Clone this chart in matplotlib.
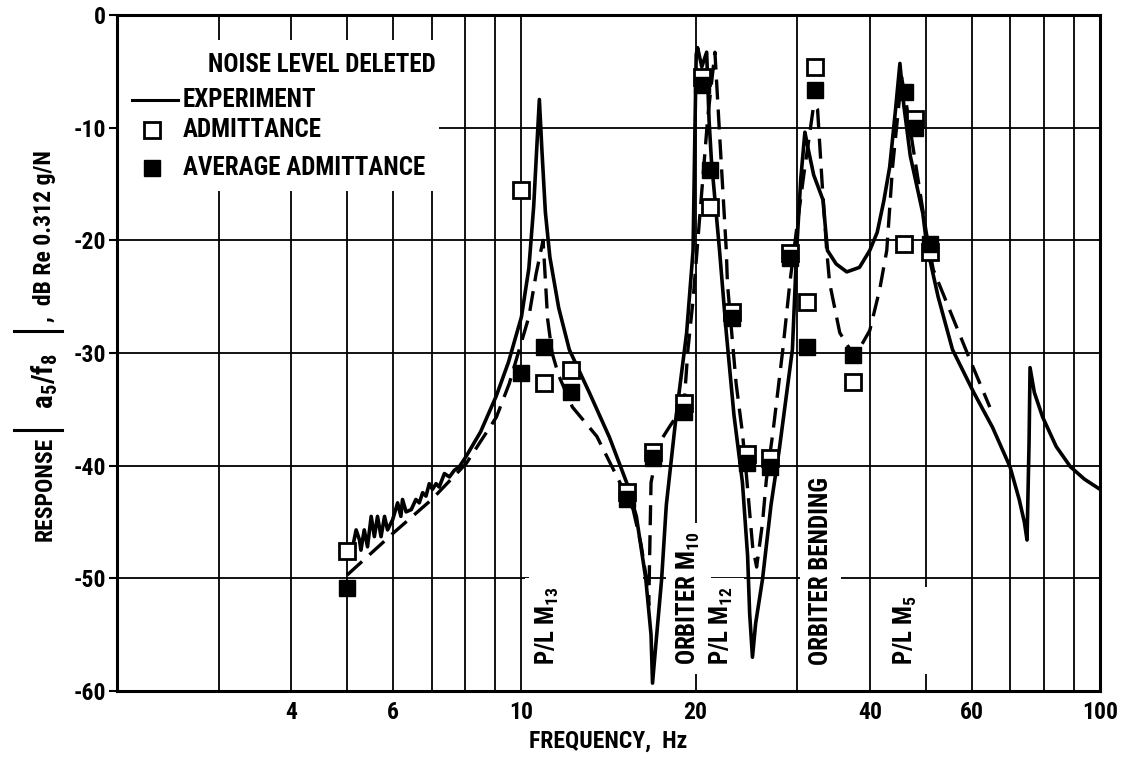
import matplotlib
matplotlib.use('Agg')
import matplotlib.pyplot as plt
from matplotlib import font_manager
from matplotlib.patches import Rectangle
from matplotlib.lines import Line2D
from matplotlib.ticker import NullFormatter

# pick a narrow/condensed bold face if one is installed
fonts = font_manager.fontManager.ttflist
FAMILY, STRETCH, NARROW = 'DejaVu Sans', 'normal', False
for want in ['Liberation Sans Narrow', 'Roboto Condensed', 'Open Sans Condensed',
             'Noto Sans Condensed', 'DejaVu Sans Condensed']:
    if any(f.name == want for f in fonts):
        FAMILY, NARROW = want, True
        break
else:
    for f in fonts:
        if f.stretch in ('condensed', 'semi-condensed') or 'Narrow' in f.name \
                or 'Condensed' in f.name:
            FAMILY, STRETCH, NARROW = f.name, f.stretch, True
            break

TICK_FS = 17 if NARROW else 14.5
TEXT_FS = 18 if NARROW else 14.5
YLAB_FS = 17 if NARROW else 14

plt.rcParams['font.family'] = FAMILY
plt.rcParams['font.stretch'] = STRETCH
plt.rcParams['font.weight'] = 'bold'
plt.rcParams['axes.labelweight'] = 'bold'
plt.rcParams['axes.unicode_minus'] = False
plt.rcParams['mathtext.fontset'] = 'custom'
plt.rcParams['mathtext.rm'] = FAMILY + ':bold'
plt.rcParams['mathtext.it'] = FAMILY + ':bold'
plt.rcParams['mathtext.bf'] = FAMILY + ':bold'
plt.rcParams['mathtext.default'] = 'rm'

# experiment, |a5/f8| in dB (noise level deleted)
exp_freq = [5.11, 5.18, 5.25, 5.28, 5.35, 5.42, 5.50, 5.57, 5.64, 5.72, 5.80, 5.87,
            5.99, 6.11, 6.19, 6.23, 6.32, 6.45, 6.57, 6.66, 6.75, 6.84, 6.93, 7.02,
            7.12, 7.21, 7.36, 7.51, 7.66, 7.81, 8.02, 8.50, 9.05, 9.50, 10.0, 10.3,
            10.5, 10.65, 10.74, 10.85, 11.0, 11.2, 11.6, 12.1, 13.1, 14.2, 15.2, 15.8,
            16.4, 16.75, 16.85, 17.1, 17.47, 17.8, 18.5, 19.3, 19.8, 19.95, 20.05, 20.16,
            20.5, 20.9, 21.1, 21.3, 22.0, 22.6, 23.3, 24.1, 24.6, 24.8, 25.08, 25.4,
            26.1, 27.0, 27.9, 29.4, 29.9, 30.4, 30.9, 31.2, 31.4, 32.0, 33.2, 33.8,
            35.0, 36.5, 38.4, 40.0, 41.2, 42.3, 43.3, 44.3, 45.1, 45.8, 47.0, 49.4,
            50.2, 52.5, 55.6, 60.5, 65.2, 69.9, 72.5, 74.0, 74.8, 75.4, 75.7, 77.0,
            79.6, 84.0, 88.9, 94.0, 100.0]
exp_db = [-47.2, -45.7, -46.6, -47.5, -45.7, -47.2, -44.5, -46.3, -44.5, -46.3, -44.5, -45.7,
          -44.8, -43.3, -44.5, -43.0, -44.1, -43.9, -43.0, -43.3, -42.4, -42.7, -41.6, -42.1,
          -41.6, -41.9, -40.7, -41.0, -40.4, -40.1, -39.2, -37.0, -33.8, -30.8, -26.8, -22.5,
          -17.0, -11.0, -7.5, -12.0, -17.5, -21.5, -26.0, -29.7, -33.5, -37.5, -41.5, -44.5,
          -50.0, -55.0, -59.3, -55.5, -50.1, -43.5, -35.7, -28.2, -20.9, -10.0, -3.5, -2.9,
          -4.6, -3.3, -9.3, -12.9, -20.9, -28.2, -35.5, -41.5, -48.0, -53.1, -57.0, -54.0,
          -50.1, -43.5, -38.6, -29.7, -20.9, -14.5, -10.4, -11.5, -12.2, -14.2, -16.4, -20.9,
          -22.1, -22.8, -22.4, -20.9, -19.3, -16.5, -13.5, -8.5, -4.3, -8.0, -12.5, -17.6,
          -20.5, -25.0, -29.7, -33.5, -36.6, -40.1, -43.0, -45.0, -46.6, -38.0, -31.3, -33.5,
          -35.7, -38.3, -40.1, -41.2, -42.1]

# admittance prediction, dashed curve
pred_freq = [5.0, 6.0, 7.0, 8.03, 9.05, 9.53, 10.3, 10.6, 10.9, 11.0, 11.1, 11.3,
             11.6, 12.25, 13.5, 14.8, 15.6, 16.1, 16.45, 16.6, 16.7, 16.75, 17.3, 18.0,
             19.1, 19.4, 19.8, 20.4, 21.0, 21.6, 22.0, 22.6, 22.7, 23.5, 24.1, 24.5,
             25.1, 25.5, 26.1, 26.5, 27.2, 28.3, 29.1, 29.9, 30.8, 31.5, 32.0, 32.5,
             33.1, 33.7, 34.1, 35.5, 37.0, 37.6, 38.5, 40.0, 41.6, 42.8, 43.8, 44.7,
             45.4, 46.3, 47.6, 50.1, 51.5, 55.6, 59.6, 64.5]
pred_db = [-49.7, -46.0, -43.0, -39.8, -35.7, -32.7, -26.8, -23.0, -20.0, -23.5, -27.0, -30.0,
           -32.0, -34.8, -37.4, -41.5, -43.9, -47.0, -50.1, -52.4, -45.0, -41.5, -38.0, -36.6,
           -34.6, -29.7, -25.3, -17.0, -9.0, -3.3, -10.5, -20.9, -23.8, -32.7, -37.1, -41.0,
           -47.2, -49.0, -45.1, -41.3, -37.1, -29.7, -23.8, -19.0, -14.0, -10.5, -8.0, -8.4,
           -15.0, -20.9, -23.8, -28.2, -29.7, -30.4, -29.5, -28.0, -24.4, -20.9, -13.5, -9.0,
           -5.5, -8.0, -12.0, -19.3, -22.6, -26.8, -30.6, -34.8]

# admittance points (open) and average admittance points (filled)
adm_freq = [5.0, 10.0, 10.96, 12.2, 15.25, 16.85, 19.1, 20.5, 21.14, 23.1,
            24.5, 26.9, 29.1, 31.2, 32.2, 37.4, 45.8, 47.8, 50.8]
adm_db = [-47.6, -15.5, -32.7, -31.5, -42.3, -38.8, -34.4, -5.5, -17.0, -26.4,
          -39.0, -39.3, -21.1, -25.5, -4.6, -32.6, -20.3, -9.2, -21.0]
avg_freq = [5.0, 10.0, 10.96, 12.2, 15.25, 16.85, 19.1, 20.5, 21.14, 23.1,
            24.5, 26.9, 29.1, 31.2, 32.2, 37.4, 46.0, 47.8, 50.8]
avg_db = [-50.9, -31.8, -29.5, -33.5, -43.0, -39.3, -35.2, -6.2, -13.8, -26.9,
          -39.8, -40.1, -21.6, -29.5, -6.7, -30.2, -6.8, -10.0, -20.3]

tick_freq = [4, 6, 10, 20, 40, 60, 100]
grid_freq = [3, 5, 7, 8, 9, 30, 50, 70, 80, 90]

# mode identifications and the frequency each sits at
mode_labels = ['P/L M$_{13}$', 'ORBITER M$_{10}$', 'P/L M$_{12}$',
               'ORBITER BENDING', 'P/L M$_5$']
mode_freq = [11.1, 19.45, 22.2, 32.9, 46.1]

W, H = 1121, 760
fig = plt.figure(figsize=(W / 100, H / 100), dpi=100)
ax = fig.add_axes([117 / W, 69 / H, 983 / W, 676 / H])
ax.set_xscale('log')
ax.set_xlim(2, 100)
ax.set_ylim(-60, 0)
ax.set_axisbelow(True)

ax.set_xticks(tick_freq)
ax.set_xticklabels([str(t) for t in tick_freq])
ax.set_xticks(grid_freq, minor=True)
ax.xaxis.set_minor_formatter(NullFormatter())
ax.set_yticks(range(-60, 1, 10))
ax.tick_params(axis='x', which='both', length=0, pad=7, labelsize=TICK_FS)
ax.tick_params(axis='y', length=6, width=1.5, direction='out', pad=2, labelsize=TICK_FS)
ax.grid(True, which='both', color='black', lw=1.3)
for s in ax.spines.values():
    s.set_linewidth(2.2)

ax.set_xlabel('FREQUENCY,  Hz', fontsize=TICK_FS, labelpad=4)

# y label in pieces (pixel positions from the top left), with tall magnitude bars
def ytext(py, s, fs=YLAB_FS, px=45, va='center'):
    fig.text(px / W, 1 - py / H, s, rotation=90, ha='center', va=va, fontsize=fs)

def ybar(py, x0=14, x1=62):
    fig.add_artist(Line2D([x0 / W, x1 / W], [1 - py / H, 1 - py / H],
                          transform=fig.transFigure, color='black', lw=2.2))

ytext(541, 'RESPONSE', va='bottom')
ybar(430)
ytext(381, 'a$_5$/f$_8$', fs=YLAB_FS + 4)
ybar(331)
ytext(322, ',  dB Re 0.312 g/N', va='bottom')

# blank out the grid behind the key and one mode label
ax.add_patch(Rectangle((2, -15.6), 5.2, 13.4, fc='white', ec='none', zorder=1))
ax.add_patch(Rectangle((10.3, -57.7), 5.9, 9.0, fc='white', ec='none', zorder=1))

for name, f in zip(mode_labels, mode_freq):
    ax.text(f, -57.7, name, rotation=90, ha='center', va='bottom', fontsize=TEXT_FS,
            zorder=1.5, bbox=dict(boxstyle='square,pad=0.35', fc='white', ec='none'))

ax.plot(exp_freq, exp_db, color='black', lw=2.6, zorder=3)
ax.plot(pred_freq, pred_db, color='black', lw=2.4, dashes=(6, 3), zorder=3)
ax.plot(adm_freq, adm_db, ls='none', marker='s', ms=11, mfc='white', mec='black',
        mew=2, zorder=4)
ax.plot(avg_freq, avg_db, ls='none', marker='s', ms=11, color='black', zorder=5)

# key
kt = ax.transAxes
ax.text(0.2085, 0.926, 'NOISE LEVEL DELETED', transform=kt, ha='center', va='center',
        fontsize=TEXT_FS)
ax.add_line(Line2D([0.0153, 0.062], [0.874, 0.874], transform=kt, color='black', lw=2.2))
ax.add_line(Line2D([0.0356], [0.830], transform=kt, ls='none', marker='s', ms=11,
                   mfc='white', mec='black', mew=2))
ax.add_line(Line2D([0.0356], [0.774], transform=kt, ls='none', marker='s', ms=11,
                   color='black'))
ax.text(0.067, 0.874, 'EXPERIMENT', transform=kt, va='center', fontsize=TEXT_FS)
ax.text(0.067, 0.830, 'ADMITTANCE', transform=kt, va='center', fontsize=TEXT_FS)
ax.text(0.067, 0.774, 'AVERAGE ADMITTANCE', transform=kt, va='center', fontsize=TEXT_FS)

fig.savefig('out.png', dpi=100)
